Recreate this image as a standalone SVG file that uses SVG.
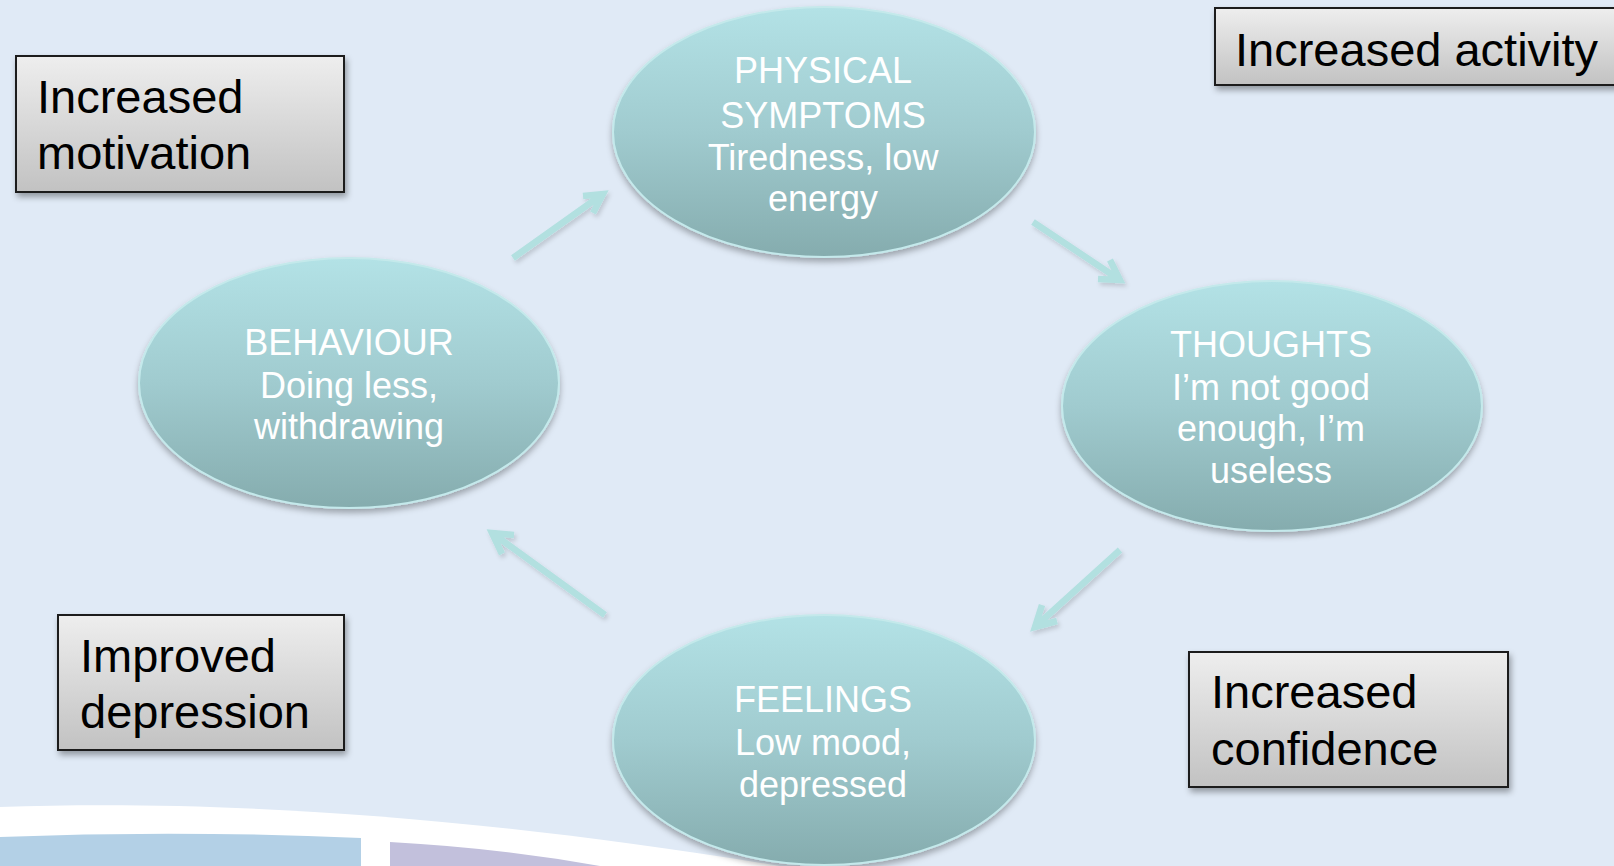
<svg xmlns="http://www.w3.org/2000/svg" width="1614" height="866" viewBox="0 0 1614 866">
<style>
.bg{fill:#e0eaf6}
.ell{fill:url(#ellG);stroke:#c4e9eb;stroke-width:2;filter:url(#shE)}
.et{font-family:"Liberation Sans",Arial,sans-serif;font-size:36px;fill:#ffffff;text-anchor:middle}
.box{fill:url(#boxG);stroke:#1a1a1a;stroke-width:2;filter:url(#shB)}
.bt{font-family:"Liberation Sans",Arial,sans-serif;font-size:47px;fill:#000000}
.arr{fill:none;stroke:#b2e0e0;stroke-width:6.5;filter:url(#shA)}
</style>
<defs>
<linearGradient id="ellG" x1="0" y1="0" x2="0" y2="1">
<stop offset="0" stop-color="#b3e2e6"/>
<stop offset="0.5" stop-color="#a0cbcf"/>
<stop offset="1" stop-color="#85acae"/>
</linearGradient>
<linearGradient id="boxG" x1="0" y1="0" x2="0" y2="1">
<stop offset="0" stop-color="#eeeeee"/>
<stop offset="1" stop-color="#c2c2c2"/>
</linearGradient>
<filter id="shE" x="-10%" y="-10%" width="120%" height="125%">
<feDropShadow dx="0" dy="4" stdDeviation="3" flood-color="#000" flood-opacity="0.3"/>
</filter>
<filter id="shB" x="-10%" y="-10%" width="120%" height="130%">
<feDropShadow dx="2" dy="4" stdDeviation="3" flood-color="#000" flood-opacity="0.35"/>
</filter>
<filter id="shA" x="-20%" y="-20%" width="140%" height="140%">
<feDropShadow dx="2" dy="3" stdDeviation="2" flood-color="#000" flood-opacity="0.15"/>
</filter>
</defs>
<rect class="bg" x="0" y="0" width="1614" height="866"/>
<g id="decoration">
<path d="M0,807 C200,800 450,812 780,866 L0,866 Z" fill="#ffffff"/>
<path d="M0,837 Q180,830 361,838 L361,866 L0,866 Z" fill="#b3d0e6"/>
<path d="M390,842 Q500,848 600,866 L390,866 Z" fill="#c2c0dc"/>
</g>
<g id="connectors">
<path class="arr" d="M513,258 L603,194 M583,196 L603,194 L593,213"/>
<path class="arr" d="M1033,222 L1120,280 M1098,279 L1120,280 L1110,260"/>
<path class="arr" d="M1120,550 L1035,627 M1057,621 L1035,627 L1042,605"/>
<path class="arr" d="M605,615 L492,533 M514,535 L492,533 L502,554"/>
</g>
<g id="physical">
<ellipse class="ell" cx="824" cy="132" rx="211" ry="125"/>
<text class="et" x="823" y="83">PHYSICAL</text>
<text class="et" x="823" y="128">SYMPTOMS</text>
<text class="et" x="823" y="170">Tiredness, low</text>
<text class="et" x="823" y="211">energy</text>
</g>
<g id="thoughts">
<ellipse class="ell" cx="1272" cy="406" rx="210" ry="125"/>
<text class="et" x="1271" y="357">THOUGHTS</text>
<text class="et" x="1271" y="400">I’m not good</text>
<text class="et" x="1271" y="441">enough, I’m</text>
<text class="et" x="1271" y="483">useless</text>
</g>
<g id="feelings">
<ellipse class="ell" cx="824" cy="740" rx="211" ry="125"/>
<text class="et" x="823" y="712">FEELINGS</text>
<text class="et" x="823" y="755">Low mood,</text>
<text class="et" x="823" y="797">depressed</text>
</g>
<g id="behaviour">
<ellipse class="ell" cx="349" cy="383" rx="210" ry="125"/>
<text class="et" x="349" y="355">BEHAVIOUR</text>
<text class="et" x="349" y="398">Doing less,</text>
<text class="et" x="349" y="439">withdrawing</text>
</g>
<g id="box-motivation">
<rect class="box" x="16" y="56" width="328" height="136"/>
<text class="bt" x="37" y="113">Increased</text>
<text class="bt" x="37" y="169">motivation</text>
</g>
<g id="box-activity">
<rect class="box" x="1215" y="8" width="420" height="77"/>
<text class="bt" x="1235" y="66">Increased activity</text>
</g>
<g id="box-depression">
<rect class="box" x="58" y="615" width="286" height="135"/>
<text class="bt" x="80" y="672">Improved</text>
<text class="bt" x="80" y="728">depression</text>
</g>
<g id="box-confidence">
<rect class="box" x="1189" y="652" width="319" height="135"/>
<text class="bt" x="1211" y="708">Increased</text>
<text class="bt" x="1211" y="765">confidence</text>
</g>
</svg>
